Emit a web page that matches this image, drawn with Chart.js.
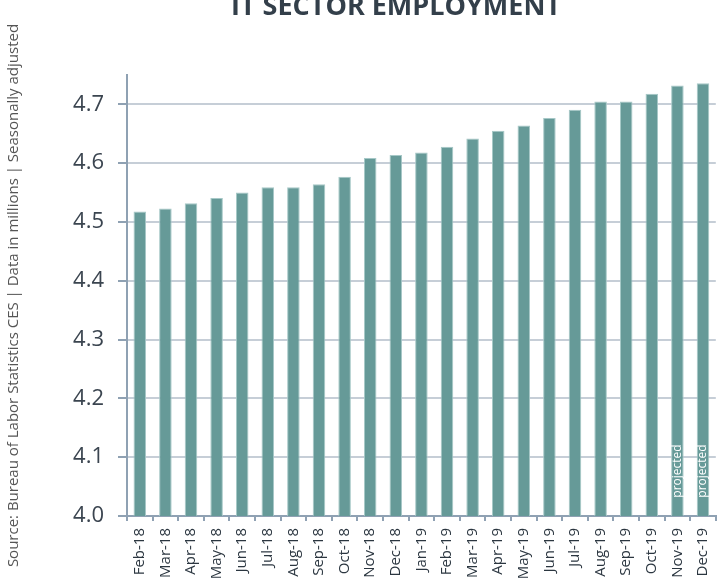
<!DOCTYPE html>
<html>
<head>
<meta charset="utf-8">
<title>IT Sector Employment</title>
<script src="https://cdn.jsdelivr.net/npm/chart.js@4.4.1/dist/chart.umd.min.js"></script>
<style>
    body { margin: 0; background: #fff; overflow: hidden; }
    #wrap { width: 728px; height: 579px; }
</style>
</head>
<body>
<div id="wrap"><canvas id="employment-chart" width="728" height="579"></canvas></div>
<script>
const months = ['Feb-18', 'Mar-18', 'Apr-18', 'May-18', 'Jun-18', 'Jul-18', 'Aug-18', 'Sep-18', 'Oct-18', 'Nov-18', 'Dec-18',
    'Jan-19', 'Feb-19', 'Mar-19', 'Apr-19', 'May-19', 'Jun-19', 'Jul-19', 'Aug-19', 'Sep-19', 'Oct-19', 'Nov-19', 'Dec-19'];
const employment = [4.518, 4.523, 4.532, 4.541, 4.550, 4.559, 4.559, 4.564, 4.577, 4.609, 4.614,
    4.618, 4.628, 4.642, 4.655, 4.664, 4.677, 4.691, 4.705, 4.705, 4.718, 4.732, 4.736];
const notes = ['', '', '', '', '', '', '', '', '', '', '', '', '', '', '', '', '', '', '', '', '', 'projected', 'projected'];
const yTicks = [4.0, 4.1, 4.2, 4.3, 4.4, 4.5, 4.6, 4.7];

const titleText = 'IT SECTOR EMPLOYMENT';
const sourceText = 'Source: Bureau of Labor Statistics CES | Data in millions | Seasonally adjusted';

// title sits partly above the top edge, so draw it by hand
const titlePlugin = {
    id: 'topTitle',
    afterDraw(chart) {
        const ctx = chart.ctx;
        ctx.save();
        ctx.font = 'bold 27px "Open Sans"';
        ctx.fillStyle = '#333f4a';
        ctx.textAlign = 'center';
        ctx.textBaseline = 'alphabetic';
        ctx.fillText(titleText, 396, 15);
        ctx.restore();
    }
};

// "projected" labels inside the last bars
const notePlugin = {
    id: 'barNotes',
    afterDatasetsDraw(chart) {
        const ctx = chart.ctx;
        const meta = chart.getDatasetMeta(0);
        ctx.save();
        ctx.font = '12px "Open Sans"';
        ctx.fillStyle = '#ffffff';
        ctx.textAlign = 'center';
        ctx.textBaseline = 'middle';
        notes.forEach((note, i) => {
            if (!note) return;
            const bar = meta.data[i];
            ctx.save();
            ctx.translate(bar.x, 471);
            ctx.rotate(-Math.PI / 2);
            ctx.fillText(note, 0, 0);
            ctx.restore();
        });
        ctx.restore();
    }
};

const ctx = document.getElementById('employment-chart').getContext('2d');
const employmentChart = new Chart(ctx, {
    type: 'bar',
    data: {
        labels: months,
        datasets: [{
            data: employment,
            backgroundColor: '#669a98',
            borderColor: '#a6c8c7',
            borderWidth: 1,
            borderSkipped: 'bottom',
            barPercentage: 0.49,
            categoryPercentage: 1
        }]
    },
    options: {
        responsive: false,
        animation: false,
        layout: { padding: { top: 75, right: 0, left: 0, bottom: 0 } },
        plugins: {
            legend: { display: false },
            tooltip: { enabled: false }
        },
        scales: {
            x: {
                afterFit: (scale) => {
                    scale.height = 63;
                },
                grid: {
                    drawOnChartArea: false,
                    tickLength: 5,
                    tickColor: '#8fa1b3',
                    lineWidth: 2
                },
                border: { color: '#8fa1b3', width: 2 },
                ticks: {
                    minRotation: 90,
                    maxRotation: 90,
                    autoSkip: false,
                    padding: 7,
                    color: '#2b3640',
                    font: { family: 'Open Sans', size: 15 }
                }
            },
            y: {
                min: 4.0,
                max: 4.75,
                afterBuildTicks: (scale) => {
                    scale.ticks = yTicks.map(v => ({ value: v }));
                },
                afterFit: (scale) => {
                    scale.width = 127;
                },
                grid: {
                    color: '#c6ced7',
                    lineWidth: 2,
                    tickLength: 9,
                    tickColor: '#8fa1b3'
                },
                border: { color: '#8fa1b3', width: 2 },
                ticks: {
                    padding: 14,
                    color: '#3b4550',
                    font: { family: 'Open Sans', size: 22 },
                    callback: (v) => v.toFixed(1)
                },
                title: {
                    display: true,
                    text: sourceText,
                    color: '#555555',
                    padding: { top: 5, bottom: 0 },
                    font: { family: 'Open Sans', size: 15 }
                }
            }
        }
    },
    plugins: [titlePlugin, notePlugin]
});
</script>
</body>
</html>
